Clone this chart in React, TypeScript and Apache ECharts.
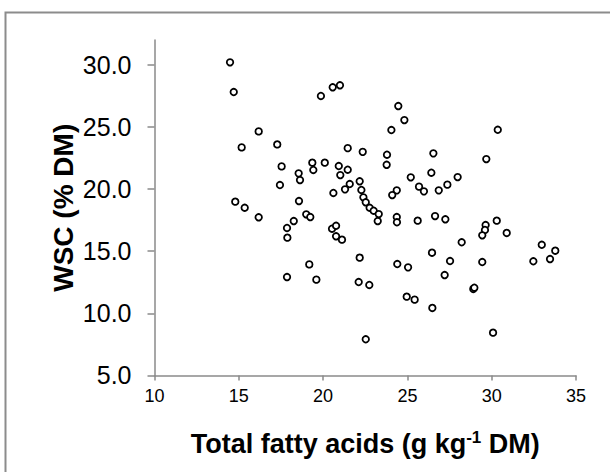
import React, { useEffect, useRef } from "react";
import * as echarts from "echarts";

// Total fatty acids (g kg-1 DM)
const fattyAcids: number[] = [
  14.48, 14.7, 19.87, 20.57, 21.0, 16.18, 15.17, 17.28, 24.05, 21.46,
  22.35, 23.79, 23.77, 17.54, 19.36, 20.1, 20.93, 21.46, 18.55, 18.63,
  19.42, 21.02, 22.17, 21.58, 21.3, 22.27, 20.61, 17.44, 22.39, 24.46,
  24.82, 30.36, 26.54, 29.68, 26.42, 25.2, 27.98, 27.37, 25.69, 25.98,
  26.86, 24.37, 24.1, 14.79, 15.35, 16.18, 18.57, 17.86, 17.88, 18.26,
  19.0, 19.24, 22.53, 22.76, 23.0, 23.3, 23.24, 20.53, 20.77, 20.77,
  21.12, 22.17, 19.18, 17.86, 19.6, 22.11, 22.74, 24.37, 24.38, 25.61,
  26.64, 27.25, 29.64, 29.6, 29.44, 30.3, 30.89, 28.22, 26.46, 27.53,
  29.44, 32.97, 33.77, 32.47, 33.46, 24.4, 25.04, 27.21, 28.91, 28.97,
  24.96, 25.43, 26.48, 30.08, 22.53,
];

// WSC (% DM)
const wsc: number[] = [
  30.21, 27.82, 27.5, 28.2, 28.36, 24.65, 23.36, 23.6, 24.76, 23.3,
  23.0, 22.77, 21.96, 21.83, 22.13, 22.13, 21.86, 21.56, 21.27, 20.73,
  21.54, 21.13, 20.63, 20.41, 19.98, 19.93, 19.69, 20.33, 19.34, 26.69,
  25.56, 24.78, 22.88, 22.42, 21.32, 20.95, 20.97, 20.36, 20.2, 19.82,
  19.9, 19.9, 19.52, 18.99, 18.5, 17.73, 19.04, 16.87, 16.09, 17.43,
  17.97, 17.75, 18.94, 18.5, 18.26, 17.99, 17.43, 16.81, 17.05, 16.2,
  15.93, 14.48, 13.94, 12.92, 12.71, 12.52, 12.28, 17.75, 17.33, 17.46,
  17.83, 17.57, 17.11, 16.71, 16.28, 17.46, 16.47, 15.72, 14.88, 14.21,
  14.13, 15.52, 15.04, 14.19, 14.37, 13.97, 13.7, 13.08, 11.96, 12.06,
  11.34, 11.1, 10.43, 8.44, 7.91,
];

const xTicks: number[] = [10, 15, 20, 25, 30, 35];
const yTicks: number[] = [5, 10, 15, 20, 25, 30];

const xTitle = "Total fatty acids (g kg";
const xTitleSup = "-1";
const xTitleEnd = " DM)";
const yTitle = "WSC (% DM)";

const AXIS_GRAY = "#8a8a8a";
const FONT = "'Liberation Sans', Arial, sans-serif";

export default function App() {
  const ref = useRef<HTMLDivElement>(null);

  useEffect(() => {
    if (!ref.current) return;
    const chart = echarts.init(ref.current, null, { renderer: "svg" });
    const points = fattyAcids.map((x, i) => [x, wsc[i]]);
    chart.setOption({
      animation: false,
      backgroundColor: "#ffffff",
      textStyle: { fontFamily: FONT },
      graphic: [
        {
          type: "rect",
          shape: { x: 5.5, y: 12.5, width: 700, height: 600 },
          style: { fill: "none", stroke: "#8c8c8c", lineWidth: 2 },
          silent: true,
        },
      ],
      grid: { left: 154.5, right: 34, top: 40.1, bottom: 96.6, containLabel: false },
      xAxis: {
        type: "value",
        min: 10,
        max: 35,
        interval: 5,
        axisLine: { show: true, lineStyle: { color: AXIS_GRAY, width: 1.5 } },
        axisTick: { show: true, length: 5, lineStyle: { color: AXIS_GRAY, width: 1.5 }, customValues: xTicks },
        axisLabel: {
          customValues: xTicks,
          color: "#000",
          fontSize: 18,
          fontFamily: FONT,
          margin: 12,
        },
        splitLine: { show: false },
        name: `{a|${xTitle}}{s|${xTitleSup}}{a|${xTitleEnd}}`,
        nameLocation: "middle",
        nameGap: 54,
        nameMoveOverlap: false,
        nameTextStyle: {
          rich: {
            a: { fontSize: 27, fontWeight: "bold", color: "#000", fontFamily: FONT, lineHeight: 30 },
            s: { fontSize: 17, fontWeight: "bold", color: "#000", fontFamily: FONT, verticalAlign: "top", lineHeight: 30, padding: [0, 0, 10, 0] },
          },
        },
      },
      yAxis: {
        type: "value",
        min: 5,
        max: 32,
        interval: 5,
        axisLine: { show: true, lineStyle: { color: AXIS_GRAY, width: 1.5 } },
        axisTick: { show: true, length: 7, lineStyle: { color: AXIS_GRAY, width: 1.5 }, customValues: yTicks },
        axisLabel: {
          customValues: yTicks,
          color: "#000",
          fontSize: 25,
          fontFamily: FONT,
          margin: 23,
          formatter: (v: number) => v.toFixed(1),
        },
        splitLine: { show: false },
        name: yTitle,
        nameLocation: "middle",
        nameGap: 77,
        nameRotate: 90,
        nameMoveOverlap: false,
        nameTextStyle: { fontSize: 28, fontWeight: "bold", color: "#000", fontFamily: FONT },
      },
      series: [
        {
          type: "scatter",
          data: points,
          symbol: "circle",
          symbolSize: 6.5,
          itemStyle: { color: "#ffffff", borderColor: "#000000", borderWidth: 1.8, opacity: 1 },
        },
      ],
    });
    return () => chart.dispose();
  }, []);

  return (
    <div
      ref={ref}
      style={{ position: "fixed", left: 0, top: 0, width: 610, height: 472, background: "#fff" }}
    />
  );
}
